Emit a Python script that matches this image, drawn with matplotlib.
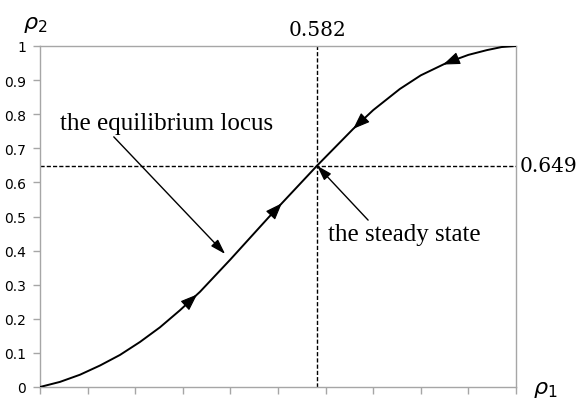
import numpy as np
import matplotlib
matplotlib.use("Agg")
import matplotlib.pyplot as plt

# ---------------- DATA ----------------
# equilibrium locus rho2(rho1)
rho1 = [0.0, 0.042, 0.084, 0.126, 0.168, 0.21, 0.252, 0.294, 0.336, 0.40, 0.48,
        0.582, 0.658, 0.70, 0.756, 0.80, 0.855, 0.90, 0.939, 0.97, 1.0]
rho2 = [0.0, 0.015, 0.036, 0.063, 0.094, 0.132, 0.175, 0.225, 0.279, 0.374, 0.497,
        0.649, 0.757, 0.812, 0.874, 0.914, 0.951, 0.974, 0.988, 0.997, 1.0]

steady_x = 0.582
steady_y = 0.649

# direction markers along the locus: (rho1 at tip, +1 = forward, -1 = backward)
flow_tips = [(0.33, 1), (0.508, 1), (0.658, -1), (0.847, -1)]

yticks = [0, 0.1, 0.2, 0.3, 0.4, 0.5, 0.6, 0.7, 0.8, 0.9, 1]
yticklabels = ["0", "0.1", "0.2", "0.3", "0.4", "0.5", "0.6", "0.7", "0.8", "0.9", "1"]
xticks = [0, 0.1, 0.2, 0.3, 0.4, 0.5, 0.6, 0.7, 0.8, 0.9, 1]

# ---------------- FIGURE ----------------
fig = plt.figure(figsize=(5.85, 4.02), dpi=100)
ax = fig.add_axes([40 / 585, 1 - 388 / 402, 476 / 585, 341 / 402])
ax.set_xlim(0, 1)
ax.set_ylim(0, 1)

grey = "#a6a6a6"
for s in ax.spines.values():
    s.set_color(grey)
    s.set_linewidth(1.0)

ax.set_xticks(xticks)
ax.set_xticklabels([])
ax.set_yticks(yticks)
ax.set_yticklabels(yticklabels, fontsize=10, family="DejaVu Sans")
ax.tick_params(axis="both", direction="out", length=5, width=1.0, color=grey, pad=5)

# locus
ax.plot(rho1, rho2, color="black", lw=1.4, solid_joinstyle="round", zorder=3)

# steady state guides
ax.plot([steady_x, steady_x], [0, 1], color="black", lw=1.0, ls=(0, (3, 1.5)),
        clip_on=False, zorder=2)
ax.plot([0, 1], [steady_y, steady_y], color="black", lw=1.0, ls=(0, (3, 1.5)),
        clip_on=False, zorder=2)

serif = "DejaVu Serif"
ax.text(steady_x, 1.02, "0.582", ha="center", va="bottom", fontsize=14.5, family=serif)
ax.text(1.008, steady_y, "0.649", ha="left", va="center", fontsize=14.5, family=serif)

# direction arrowheads on the curve
for xt, d in flow_tips:
    yt = np.interp(xt, rho1, rho2)
    xb = xt - d * 0.02
    yb = np.interp(xb, rho1, rho2)
    ax.annotate("", xy=(xt, yt), xytext=(xb, yb),
                arrowprops=dict(arrowstyle="-|>,head_length=0.8,head_width=0.3",
                                color="black", lw=0.8, shrinkA=0, shrinkB=0,
                                mutation_scale=13),
                zorder=4)

# labels with pointers
note_font = dict(fontsize=18, family="Liberation Serif")
ax.annotate("the equilibrium locus", xy=(0.389, 0.39), xytext=(0.042, 0.774),
            ha="left", va="center", **note_font,
            arrowprops=dict(arrowstyle="-|>,head_length=0.7,head_width=0.22",
                            color="black", lw=1.0, shrinkA=0, shrinkB=0,
                            mutation_scale=13, relpos=(0.24, 0.0)))
ax.annotate("the steady state", xy=(steady_x, steady_y), xytext=(0.605, 0.449),
            ha="left", va="center", **note_font,
            arrowprops=dict(arrowstyle="-|>,head_length=0.7,head_width=0.22",
                            color="black", lw=1.0, shrinkA=0, shrinkB=0,
                            mutation_scale=13, relpos=(0.28, 1.0)))

# axis names
fig.text(35 / 585, 1 - 25 / 402, r"$\rho_2$", ha="center", va="center", fontsize=16)
fig.text(533 / 585, 2 / 402, r"$\rho_1$", ha="left", va="bottom", fontsize=16)

fig.savefig("out.png", dpi=100)
